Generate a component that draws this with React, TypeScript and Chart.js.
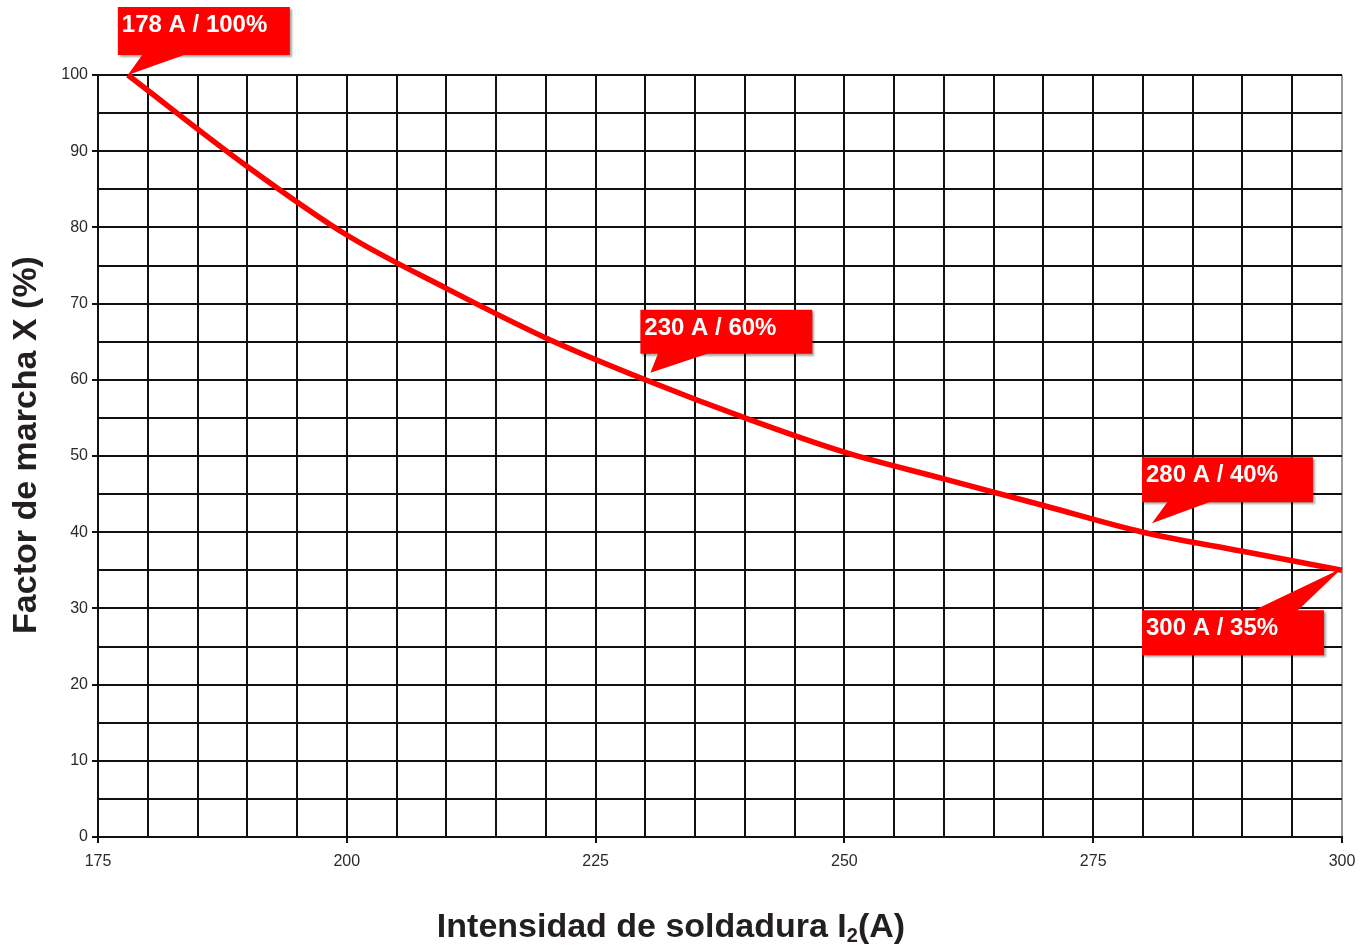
import React, { useEffect, useRef } from "react";
import { Chart, registerables } from "chart.js";

Chart.register(...registerables);

// ---- data ----
const currentA = [178, 190, 200, 210, 220, 230, 240, 250, 260, 270, 280, 290, 300];
const dutyPct = [100, 88, 79, 72, 65.5, 60, 55, 50.5, 47, 43.5, 40, 37.5, 35];

const calloutA = [178, 230, 280, 300];
const calloutPct = [100, 60, 40, 35];
const calloutText = ["178 A / 100%", "230 A / 60%", "280 A / 40%", "300 A / 35%"];

const xTicksMin = 175;
const xTicksMax = 300;
const yTicksMin = 0;
const yTicksMax = 100;

const yTitle = "Factor de marcha X (%)";
const xTitleMain = "Intensidad de soldadura I";
const xTitleSub = "2";
const xTitleEnd = "(A)";

const FONT = '"Liberation Sans", Arial, sans-serif';

// callout box geometry relative to anchor point (style/layout only)
const calloutGeom = [
  { dx: -10, dy: -68, w: 172, h: 48, side: "bottom", b1: 25, b2: 69, tx: 0, ty: 0 },
  { dx: -5, dy: -70, w: 172, h: 44, side: "bottom", b1: 18, b2: 70, tx: 5, ty: -7 },
  { dx: -1, dy: -75, w: 171, h: 45, side: "bottom", b1: 26, b2: 70, tx: 9, ty: -9 },
  { dx: -200, dy: 40, w: 182, h: 45, side: "top", b1: 110, b2: 155, tx: 0, ty: -2 },
];

const overlayPlugin = {
  id: "overlay",
  afterDraw(chart: any) {
    const ctx = chart.ctx as CanvasRenderingContext2D;
    const xs = chart.scales.x;
    const ys = chart.scales.y;

    // callouts
    calloutA.forEach((a, i) => {
      const g = calloutGeom[i];
      const ax = xs.getPixelForValue(a);
      const ay = ys.getPixelForValue(calloutPct[i]);
      const bx = ax + g.dx;
      const by = ay + g.dy;
      ctx.save();
      ctx.fillStyle = "#ff0000";
      ctx.shadowColor = "rgba(0,0,0,0.35)";
      ctx.shadowOffsetX = 2;
      ctx.shadowOffsetY = 2;
      ctx.shadowBlur = 2;
      ctx.beginPath();
      ctx.rect(bx, by, g.w, g.h);
      ctx.fill();
      ctx.shadowColor = "rgba(0,0,0,0)";
      ctx.beginPath();
      const edgeY = g.side === "bottom" ? by + g.h : by;
      ctx.moveTo(bx + g.b1, edgeY + (g.side === "bottom" ? -1 : 1));
      ctx.lineTo(ax + g.tx, ay + g.ty);
      ctx.lineTo(bx + g.b2, edgeY + (g.side === "bottom" ? -1 : 1));
      ctx.closePath();
      ctx.fill();
      ctx.fillStyle = "#ffffff";
      ctx.font = `bold 24px ${FONT}`;
      ctx.textAlign = "left";
      ctx.textBaseline = "alphabetic";
      ctx.fillText(calloutText[i], bx + 4, by + 25);
      ctx.restore();
    });

    // y axis title
    ctx.save();
    ctx.fillStyle = "#231f20";
    ctx.font = `bold 34px ${FONT}`;
    ctx.textAlign = "center";
    ctx.textBaseline = "alphabetic";
    ctx.translate(36, 445);
    ctx.rotate(-Math.PI / 2);
    ctx.fillText(yTitle, 0, 0);
    ctx.restore();

    // x axis title with subscript
    ctx.save();
    ctx.fillStyle = "#231f20";
    ctx.textAlign = "left";
    ctx.textBaseline = "alphabetic";
    const mainFont = `bold 34px ${FONT}`;
    const subFont = `bold 20px ${FONT}`;
    ctx.font = mainFont;
    const w1 = ctx.measureText(xTitleMain).width;
    const w3 = ctx.measureText(xTitleEnd).width;
    ctx.font = subFont;
    const w2 = ctx.measureText(xTitleSub).width;
    const total = w1 + w2 + w3;
    const cx = 671;
    const x0 = cx - total / 2;
    const base = 937;
    ctx.font = mainFont;
    ctx.fillText(xTitleMain, x0, base);
    ctx.font = subFont;
    ctx.fillText(xTitleSub, x0 + w1, base + 5);
    ctx.font = mainFont;
    ctx.fillText(xTitleEnd, x0 + w1 + w2, base);
    ctx.restore();
  },
};

export default function App() {
  const ref = useRef<HTMLCanvasElement | null>(null);

  useEffect(() => {
    document.body.style.margin = "0";
    const canvas = ref.current;
    if (!canvas) return;
    const points = currentA.map((a, i) => ({ x: a, y: dutyPct[i] }));
    const gridColor = (ctx: any) =>
      ctx.tick && ctx.tick.value === xTicksMax ? "#9a9a9a" : "#111111";
    const chart = new Chart(canvas, {
      type: "line",
      data: {
        datasets: [
          {
            data: points,
            borderColor: "#ff0000",
            borderWidth: 5.5,
            pointRadius: 0,
            cubicInterpolationMode: "monotone",
            fill: false,
            clip: false as any,
          },
        ],
      },
      options: {
        animation: false,
        responsive: true,
        maintainAspectRatio: false,
        layout: { padding: { top: 75, right: 28, left: 0, bottom: 0 } },
        plugins: {
          legend: { display: false },
          tooltip: { enabled: false },
          title: { display: false },
        },
        scales: {
          x: {
            type: "linear",
            min: xTicksMin,
            max: xTicksMax,
            afterFit: (s: any) => {
              s.height = 108;
            },
            border: { display: true, color: "#111111", width: 2 },
            grid: {
              color: gridColor,
              lineWidth: 2,
              tickLength: 6,
              tickColor: (c: any) => (c.tick && c.tick.value % 25 === 0 ? "#111111" : "rgba(0,0,0,0)"),
              tickWidth: 2,
            },
            ticks: {
              stepSize: 5,
              autoSkip: false,
              maxRotation: 0,
              padding: 9,
              color: "#2a2a2a",
              font: { family: FONT, size: 16 },
              callback: (v: any) => (Number(v) % 25 === 0 ? String(v) : ""),
            },
          },
          y: {
            type: "linear",
            min: yTicksMin,
            max: yTicksMax,
            afterFit: (s: any) => {
              s.width = 98;
            },
            border: { display: true, color: "#111111", width: 2 },
            grid: {
              color: "#111111",
              lineWidth: 2,
              tickLength: 6,
              tickColor: (c: any) => (c.tick && c.tick.value % 10 === 0 ? "#111111" : "rgba(0,0,0,0)"),
              tickWidth: 2,
            },
            ticks: {
              stepSize: 5,
              autoSkip: false,
              padding: 4,
              color: "#2a2a2a",
              font: { family: FONT, size: 16 },
              callback: (v: any) => (Number(v) % 10 === 0 ? String(v) : ""),
            },
          },
        },
      },
      plugins: [overlayPlugin],
    });
    return () => chart.destroy();
  }, []);

  return (
    <div style={{ position: "absolute", left: 0, top: 0, width: 1370, height: 945 }}>
      <canvas ref={ref} />
    </div>
  );
}
